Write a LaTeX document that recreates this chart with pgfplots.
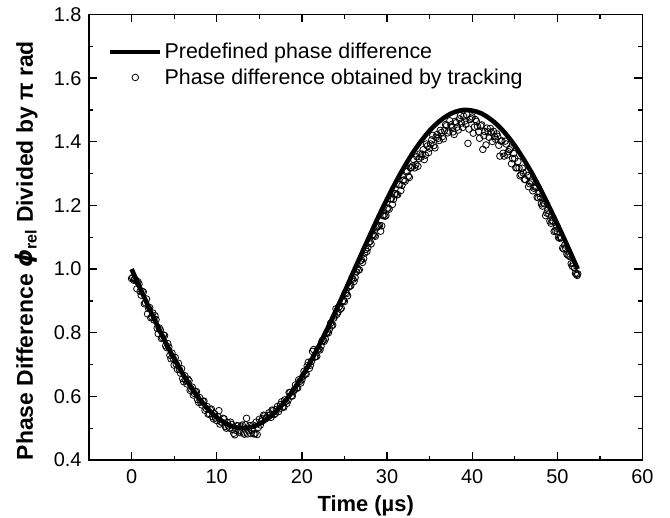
\documentclass[border=0pt]{standalone}
\usepackage{fontspec}
\setmainfont{Liberation Sans}
\newfontfamily\dejavu{DejaVu Sans}
\usepackage{pgfplots}
\pgfplotsset{compat=1.18}
\pgfplotsset{
  lineleg/.style={legend image code/.code={\draw[##1] (0bp,0bp) -- (50bp,0bp);}},
  markleg/.style={legend image code/.code={\draw[mark repeat=1,mark phase=1,##1] plot coordinates {(25bp,0bp)};}},
}

% predefined phase difference (divided by pi)
\pgfplotstableread{
t y
0 1.000
1 0.940
2 0.881
3 0.824
4 0.769
5 0.718
6 0.671
7 0.628
8 0.591
9 0.559
10 0.534
11 0.516
12 0.504
13 0.500
14 0.503
15 0.513
16 0.530
17 0.554
18 0.584
19 0.620
20 0.662
21 0.708
22 0.759
23 0.813
24 0.870
25 0.928
26 0.988
27 1.048
28 1.107
29 1.165
30 1.220
31 1.272
32 1.320
33 1.364
34 1.402
35 1.435
36 1.461
37 1.481
38 1.494
39 1.500
40 1.498
41 1.490
42 1.474
43 1.452
44 1.423
45 1.388
46 1.347
47 1.302
48 1.252
49 1.198
50 1.142
51 1.084
52 1.024
52.4 1.000
}\predefined

% phase difference obtained by tracking
\pgfplotstableread{
t y
0.00 0.970
0.25 0.965
0.50 0.965
0.75 0.960
1.00 0.930
1.25 0.930
1.50 0.891
1.75 0.906
2.00 0.876
2.25 0.847
2.50 0.862
2.75 0.853
3.00 0.814
3.25 0.815
3.50 0.782
3.75 0.793
4.00 0.759
4.25 0.766
4.50 0.729
4.75 0.736
5.00 0.698
5.25 0.701
5.50 0.704
5.75 0.673
6.00 0.656
6.25 0.665
6.50 0.639
6.75 0.649
7.00 0.623
7.25 0.604
7.50 0.614
7.75 0.590
8.00 0.596
8.25 0.573
8.50 0.585
8.75 0.562
9.00 0.544
9.25 0.558
9.50 0.537
9.75 0.545
10.00 0.524
10.25 0.555
10.50 0.520
10.75 0.531
11.00 0.506
11.25 0.518
11.50 0.500
11.75 0.512
12.00 0.484
12.25 0.493
12.50 0.507
12.75 0.486
13.00 0.510
13.25 0.481
13.50 0.531
13.75 0.492
14.00 0.483
14.25 0.510
14.50 0.483
14.75 0.480
15.00 0.528
15.25 0.522
15.50 0.541
15.75 0.531
16.00 0.540
16.25 0.541
16.50 0.557
16.75 0.543
17.00 0.559
17.25 0.552
17.50 0.574
17.75 0.567
18.00 0.589
18.25 0.578
18.50 0.612
18.75 0.601
19.00 0.615
19.25 0.636
19.50 0.626
19.75 0.647
20.00 0.652
20.25 0.679
20.50 0.670
20.75 0.707
21.00 0.698
21.25 0.741
21.50 0.723
21.75 0.726
22.00 0.749
22.25 0.758
22.50 0.776
22.75 0.780
23.00 0.803
23.25 0.812
23.50 0.822
23.75 0.846
24.00 0.875
24.25 0.865
24.50 0.874
24.75 0.899
25.00 0.898
25.25 0.923
25.50 0.943
25.75 0.948
26.00 0.968
26.25 0.973
26.50 1.003
26.75 0.998
27.00 1.028
27.25 1.033
27.50 1.062
27.75 1.067
28.00 1.087
28.25 1.106
28.50 1.106
28.75 1.130
29.00 1.135
29.25 1.119
29.50 1.168
29.75 1.166
30.00 1.190
30.25 1.188
30.50 1.221
30.75 1.219
31.00 1.237
31.25 1.234
31.50 1.266
31.75 1.263
32.00 1.280
32.25 1.306
32.50 1.292
32.75 1.318
33.00 1.324
33.25 1.318
33.50 1.353
33.75 1.347
34.00 1.352
34.25 1.375
34.50 1.358
34.75 1.387
35.00 1.380
35.25 1.406
35.50 1.388
35.75 1.414
36.00 1.411
36.25 1.436
36.50 1.416
36.75 1.436
37.00 1.451
37.25 1.434
37.50 1.453
37.75 1.431
38.00 1.464
38.25 1.446
38.50 1.472
38.75 1.459
39.00 1.480
39.25 1.455
39.50 1.395
39.75 1.470
40.00 1.478
40.25 1.446
40.50 1.464
40.75 1.432
41.00 1.450
41.25 1.376
41.50 1.432
41.75 1.443
42.00 1.414
42.25 1.429
42.50 1.433
42.75 1.408
43.00 1.417
43.25 1.355
43.50 1.403
43.75 1.355
44.00 1.393
44.25 1.369
44.50 1.380
44.75 1.347
45.00 1.348
45.25 1.318
45.50 1.318
45.75 1.297
46.00 1.302
46.25 1.281
46.50 1.294
46.75 1.268
47.00 1.277
47.25 1.254
47.50 1.257
47.75 1.224
48.00 1.227
48.25 1.198
48.50 1.205
48.75 1.176
49.00 1.173
49.25 1.144
49.50 1.150
49.75 1.121
50.00 1.117
50.25 1.097
50.50 1.098
50.75 1.063
51.00 1.064
51.25 1.044
51.50 1.039
51.75 1.009
52.00 1.004
52.25 0.984
52.40 0.985
0.125 0.973
0.375 0.968
0.625 0.938
0.875 0.953
1.125 0.918
1.375 0.928
1.625 0.894
1.875 0.859
2.125 0.879
2.375 0.850
2.625 0.840
2.875 0.841
3.125 0.797
3.375 0.809
3.625 0.785
3.875 0.791
4.125 0.753
4.375 0.755
4.625 0.718
4.875 0.720
5.125 0.722
5.375 0.685
5.625 0.684
5.875 0.687
6.125 0.646
6.375 0.650
6.625 0.654
6.875 0.619
7.125 0.629
7.375 0.609
7.625 0.615
7.875 0.581
8.125 0.582
8.375 0.584
8.625 0.556
8.875 0.568
9.125 0.546
9.375 0.560
9.625 0.529
9.875 0.532
10.125 0.537
10.375 0.513
10.625 0.518
10.875 0.529
11.125 0.500
11.375 0.507
11.625 0.519
11.875 0.496
12.125 0.479
12.375 0.508
12.625 0.492
12.875 0.506
13.125 0.485
13.375 0.511
13.625 0.482
13.875 0.508
14.125 0.494
14.375 0.482
14.625 0.519
14.875 0.502
15.125 0.510
15.375 0.529
15.625 0.539
15.875 0.533
16.125 0.548
16.375 0.534
16.625 0.555
16.875 0.546
17.125 0.568
17.375 0.561
17.625 0.583
17.875 0.566
18.125 0.584
18.375 0.588
18.625 0.612
18.875 0.601
19.125 0.621
19.375 0.626
19.625 0.652
19.875 0.642
20.125 0.663
20.375 0.670
20.625 0.696
20.875 0.688
21.125 0.710
21.375 0.747
21.625 0.725
21.875 0.748
22.125 0.746
22.375 0.774
22.625 0.773
22.875 0.797
23.125 0.800
23.375 0.830
23.625 0.824
23.875 0.853
24.125 0.858
24.375 0.882
24.625 0.877
24.875 0.901
25.125 0.926
25.375 0.916
25.625 0.946
25.875 0.971
26.125 0.961
26.375 0.991
26.625 0.996
26.875 1.026
27.125 1.021
27.375 1.050
27.625 1.055
27.875 1.085
28.125 1.079
28.375 1.109
28.625 1.103
28.875 1.133
29.125 1.137
29.375 1.136
29.625 1.170
29.875 1.168
30.125 1.192
30.375 1.220
30.625 1.203
30.875 1.236
31.125 1.233
31.375 1.265
31.625 1.247
31.875 1.279
32.125 1.276
32.375 1.307
32.625 1.288
32.875 1.319
33.125 1.344
33.375 1.328
33.625 1.323
33.875 1.362
34.125 1.361
34.375 1.344
34.625 1.393
34.875 1.366
35.125 1.393
35.375 1.420
35.625 1.381
35.875 1.423
36.125 1.404
36.375 1.429
36.625 1.409
36.875 1.454
37.125 1.428
37.375 1.466
37.625 1.445
37.875 1.423
38.125 1.460
38.375 1.437
38.625 1.483
38.875 1.445
39.125 1.465
39.375 1.485
39.625 1.440
39.875 1.474
40.125 1.427
40.375 1.470
40.625 1.448
40.875 1.411
41.125 1.453
41.375 1.419
41.625 1.390
41.875 1.431
42.125 1.442
42.375 1.401
42.625 1.416
42.875 1.425
43.125 1.389
43.375 1.402
43.625 1.364
43.875 1.402
44.125 1.359
44.375 1.375
44.625 1.331
44.875 1.363
45.125 1.318
45.375 1.338
45.625 1.293
45.875 1.317
46.125 1.282
46.375 1.305
46.625 1.259
46.875 1.273
47.125 1.246
47.375 1.258
47.625 1.226
47.875 1.238
48.125 1.205
48.375 1.207
48.625 1.168
48.875 1.185
49.125 1.151
49.375 1.152
49.625 1.118
49.875 1.129
50.125 1.100
50.375 1.100
50.625 1.066
50.875 1.076
51.125 1.047
51.375 1.042
51.625 1.017
51.875 1.017
52.125 0.987
52.325 0.980
}\tracked

\begin{document}
\begin{tikzpicture}
\path[use as bounding box] (-89bp,-58bp) rectangle (581bp,460bp);
\begin{axis}[
  at={(0,0)}, anchor=south west,
  scale only axis, width=553.5bp, height=445.5bp,
  xmin=-5, xmax=60, ymin=0.4, ymax=1.8,
  xtick={0,10,20,30,40,50,60},
  ytick={0.4,0.6,0.8,1.0,1.2,1.4,1.6,1.8},
  minor x tick num=1, minor y tick num=1,
  tick align=inside,
  major tick length=8bp, minor tick length=4.5bp,
  axis line style={line width=1.4bp},
  every tick/.style={black, line width=1.3bp},
  /pgf/number format/assume math mode=true,
  ticklabel style={font=\fontsize{20}{20}\selectfont},
  xticklabel style={yshift=-6bp},
  yticklabel style={xshift=-4bp, /pgf/number format/.cd, fixed, fixed zerofill, precision=1},
  xlabel={Time (µs)},
  ylabel={Phase Difference {\dejavu\bfseries\itshape ϕ}\textsubscript{rel} Divided by π rad},
  label style={font=\fontsize{22}{23}\selectfont\bfseries},
  xlabel style={at={(axis description cs:0.5,-0.1165)}, anchor=base},
  ylabel style={at={(axis description cs:-0.1128,0.470)}, anchor=center, font=\fontsize{23}{24}\selectfont\bfseries},
  legend style={at={(axis description cs:0.034,0.940)}, anchor=north west,
    draw=none, fill=none, inner sep=0pt, row sep=4.5bp,
    font=\fontsize{21.5}{23}\selectfont,
    nodes={inner sep=2bp}},
  legend cell align=left,
  reverse legend,
]
\addplot[only marks, mark=o, mark size=3.3bp, black, line width=0.8bp, markleg]
  table[x=t, y=y] {\tracked};
\addlegendentry{Phase difference obtained by tracking}
\addplot[black, line width=4.6bp, smooth, no marks, lineleg]
  table[x=t, y=y] {\predefined};
\addlegendentry{Predefined phase difference}
\end{axis}
\end{tikzpicture}
\end{document}
